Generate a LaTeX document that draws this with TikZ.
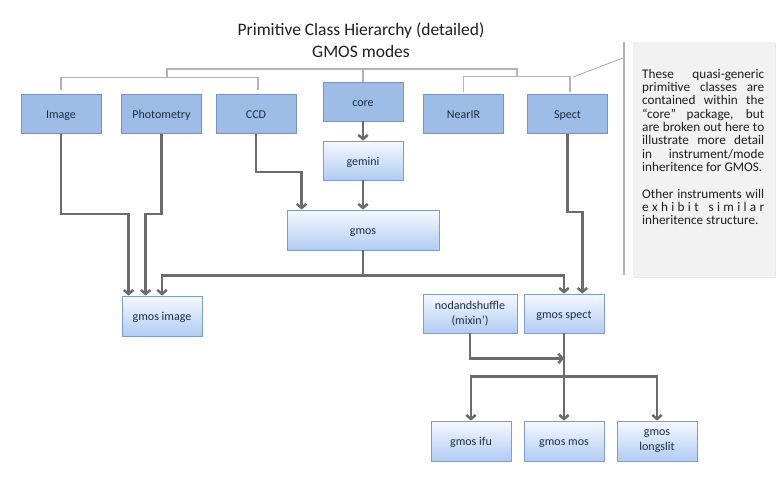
\documentclass[tikz,border=0pt]{standalone}
\usepackage{fontspec}
\setmainfont{Carlito}
\usetikzlibrary{arrows.meta,calc,shadows}
\definecolor{arrowgray}{HTML}{6B6B6B}
\definecolor{bracegray}{HTML}{B4B4B4}
\definecolor{boxfill}{HTML}{9DBDE6}
\definecolor{boxedge}{HTML}{7593C2}
\definecolor{gradtop}{HTML}{F6F9FF}
\definecolor{gradbot}{HTML}{B0CCF3}
\definecolor{gradedge}{HTML}{7E9DCD}
\definecolor{labelcol}{HTML}{1F2B45}
\definecolor{notefill}{HTML}{F2F2F2}
\definecolor{titlecol}{HTML}{1E1E1E}
\newcommand\jl[1]{\hbox to 122pt{\spaceskip=\fontdimen2\font plus 1fil\relax #1}}
\begin{document}
\begin{tikzpicture}[x=1pt,y=-1pt,
  boxbase/.style={line width=0.8pt, minimum width=80pt, minimum height=39pt, inner sep=0pt, font=\fontsize{12}{15}\selectfont, text=labelcol, align=center},
  oneline/.style={text height=10.5pt, text depth=1.5pt},
  solidbox/.style={boxbase, oneline, draw=boxedge, fill=boxfill},
  gradbox/.style={boxbase, draw=gradedge, top color=gradtop, bottom color=gradbot},
  conn/.style={draw=arrowgray, line width=2.5pt, -{Straight Barb[length=4pt,width=9.5pt]}},
  brace/.style={draw=bracegray, line width=1.2pt},
  titletext/.style={font=\fontsize{17.5}{21}\selectfont, text=titlecol, inner sep=0pt, anchor=base}]
\useasboundingbox (0,0) rectangle (778,485);

% title
\node[titletext] (t1) at (361,35) {Primitive Class Hierarchy (detailed)};
\node[titletext] (t2) at (361,57) {GMOS modes};

% top row
\node[solidbox] (image) at (61,114) {Image};
\node[solidbox] (photo) at (161.5,114) {Photometry};
\node[solidbox] (ccd) at (256,114) {CCD};
\node[solidbox] (core) at (363,101.5) {core};
\node[solidbox] (nearir) at (463.5,114) {NearIR};
\node[solidbox] (spect) at (567.5,114) {Spect};

% derived
\node[gradbox, oneline] (gemini) at (363,160.5) {gemini};
\node[gradbox, oneline, minimum width=152pt, minimum height=40pt] (gmos) at (363,230) {gmos};
\node[gradbox, oneline, minimum height=40pt] (gimg) at (162,316) {gmos image};
\node[gradbox, minimum width=94pt] (nod) at (470,313.5) {nodandshuffle\\(mixin’)};
\node[gradbox, oneline] (gspect) at (564,313.5) {gmos spect};
\node[gradbox, oneline, minimum height=40pt] (ifu) at (471,441) {gmos ifu};
\node[gradbox, oneline, minimum height=40pt] (mos) at (564,441) {gmos mos};
\node[gradbox, minimum height=40pt] (slit) at (657,441) {gmos\\longslit};

% package brackets
\draw[brace] ($(image.north)+(0,-4)$) -- ++(0,-13) -| ($(ccd.north)+(2,-4)$);
\draw[brace] (167,77) |- (517,69) -- (517,77);
\draw[brace] (core.north) -- ++(0,-13);
\draw[brace] ($(nearir.north)+(0,-2)$) -- ++(0,-16) -| ($(spect.north)+(2.5,-2)$);

% note
\draw[bracegray, line width=1.5pt] (624,42) -- (624,275);
\draw[black!35, line width=0.8pt] (573,77) -- (623,58);
\fill[notefill, drop shadow={opacity=0.18, shadow xshift=0.8pt, shadow yshift=-1.2pt}] (633,42) rectangle (775,277);
\node[anchor=north west, inner sep=0pt, align=left, text=titlecol,
      font=\fontsize{13.2}{13.3}\selectfont] (note) at (642,69)
{\jl{These quasi-generic}\\
 \jl{primitive classes are}\\
 \jl{contained within the}\\
 \jl{“core” package, but}\\
 \jl{are broken out here to}\\
 \jl{illustrate more detail}\\
 \jl{in instrument/mode}\\
 \hbox{inheritence for GMOS.}\\[13.3pt]
 \jl{Other instruments will}\\
 \hbox to 122pt{e\hfil x\hfil h\hfil i\hfil b\hfil i\hfil t\hfil\hfil\hfil s\hfil i\hfil m\hfil i\hfil l\hfil a\hfil r}\\
 \hbox{inheritence structure.}};

% connectors
\draw[conn] (image.south) -- ++(0,80) -| ($(gimg.north west)+(7,0)$);
\draw[conn] (photo.south) -- ++(0,80) -| ($(gimg.north west)+(24,0)$);
\draw[conn] (ccd.south) -- ++(0,38) -| ($(gmos.north west)+(15,0)$);
\draw[conn] (core) -- (gemini);
\draw[conn] (gemini) -- (gmos);
\draw[conn] (gmos.south) -- ++(0,25) -| (gimg.north);
\draw[conn] (gmos.south) -- ++(0,25) -| (gspect.north);
\draw[conn] (spect.south) -- ++(0,78) -| ($(gspect.north east)+(-22,0)$);
\draw[conn] (nod.south) |- ($(gspect.south)+(0,25)$);
\draw[conn] (gspect.south) -- ++(0,43) -| (ifu.north);
\draw[conn] (gspect) -- (mos);
\draw[conn] (gspect.south) -- ++(0,43) -| (slit.north);
\end{tikzpicture}
\end{document}
